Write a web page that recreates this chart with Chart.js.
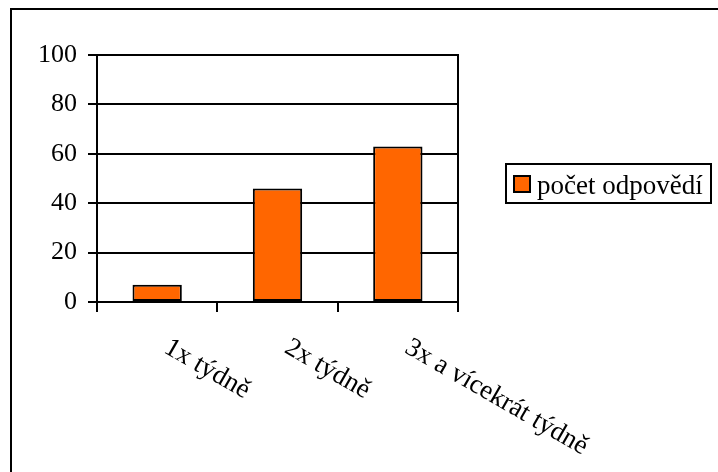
<!DOCTYPE html>
<html>
<head>
<meta charset="utf-8">
<script src="https://cdn.jsdelivr.net/npm/chart.js@4"></script>
<style>
    html, body { margin: 0; padding: 0; background: #fff; overflow: hidden; }
    #wrap { position: relative; width: 718px; height: 472px; overflow: hidden; }
    #frame { position: absolute; left: 10px; top: 8px; width: 800px; height: 600px; border: 2px solid #000; }
    canvas { position: absolute; left: 0; top: 0; }
</style>
</head>
<body>
<div id="wrap">
    <div id="frame"></div>
    <canvas id="chart" width="718" height="472"></canvas>
</div>
<script>
// Data
const categories = ['1x týdně', '2x týdně', '3x a vícekrát týdně'];
const responses = [7, 46, 63];
const seriesName = 'počet odpovědí';
const yTicks = [0, 20, 40, 60, 80, 100];

const FONT = '"Liberation Serif", "Times New Roman", serif';
const ORANGE = '#ff6600';

// Category labels slanted downwards to the right, as in the original
const slantedLabels = {
    id: 'slantedLabels',
    afterDraw(chart) {
        const ctx = chart.ctx;
        const x = chart.scales.x;
        ctx.save();
        ctx.font = '27px ' + FONT;
        ctx.fillStyle = '#000';
        ctx.textAlign = 'left';
        ctx.textBaseline = 'top';
        chart.data.labels.forEach((label, i) => {
            ctx.save();
            ctx.translate(x.getPixelForValue(i) + 16, chart.chartArea.bottom + 32);
            ctx.rotate(30 * Math.PI / 180);
            ctx.fillText(label, 0, 0);
            ctx.restore();
        });
        ctx.restore();
    }
};

// Boxed legend on the right
const boxLegend = {
    id: 'boxLegend',
    afterDraw(chart) {
        const ctx = chart.ctx;
        const ds = chart.data.datasets[0];
        ctx.save();
        ctx.lineWidth = 2;
        ctx.strokeStyle = '#000';
        ctx.strokeRect(506, 164, 205, 39);
        ctx.fillStyle = ds.backgroundColor;
        ctx.fillRect(514, 176, 16, 16);
        ctx.strokeRect(514, 176, 16, 16);
        ctx.fillStyle = '#000';
        ctx.font = '27px ' + FONT;
        ctx.textBaseline = 'alphabetic';
        ctx.fillText(ds.label, 537, 194);
        ctx.restore();
    }
};

new Chart(document.getElementById('chart'), {
    type: 'bar',
    data: {
        labels: categories,
        datasets: [{
            label: seriesName,
            data: responses,
            backgroundColor: ORANGE,
            borderColor: '#000',
            borderWidth: 2,
            borderSkipped: false,
            categoryPercentage: 1,
            barPercentage: 0.41
        }]
    },
    options: {
        responsive: false,
        animation: false,
        layout: { padding: { left: 0, top: 55, right: 260, bottom: 0 } },
        plugins: {
            legend: { display: false },
            tooltip: { enabled: false }
        },
        scales: {
            x: {
                offset: true,
                ticks: { display: false },
                grid: {
                    offset: true,
                    drawOnChartArea: false,
                    drawTicks: true,
                    tickLength: 10,
                    color: '#000',
                    lineWidth: 2
                },
                border: { display: true, color: '#000', width: 2 },
                afterFit(scale) { scale.height = 170; }
            },
            y: {
                min: 0,
                max: 100,
                afterBuildTicks(scale) { scale.ticks = yTicks.map(v => ({ value: v })); },
                ticks: {
                    color: '#000',
                    padding: 11,
                    font: { family: FONT, size: 26 }
                },
                grid: {
                    color: '#000',
                    lineWidth: 2,
                    tickLength: 9
                },
                border: { display: true, color: '#000', width: 2 },
                afterFit(scale) { scale.width = 97; }
            },
            y2: {
                position: 'right',
                min: 0,
                max: 100,
                ticks: { display: false },
                grid: { drawOnChartArea: false, drawTicks: false },
                border: { display: true, color: '#000', width: 2 },
                afterFit(scale) { scale.width = 0; }
            }
        }
    },
    plugins: [slantedLabels, boxLegend]
});
</script>
</body>
</html>
